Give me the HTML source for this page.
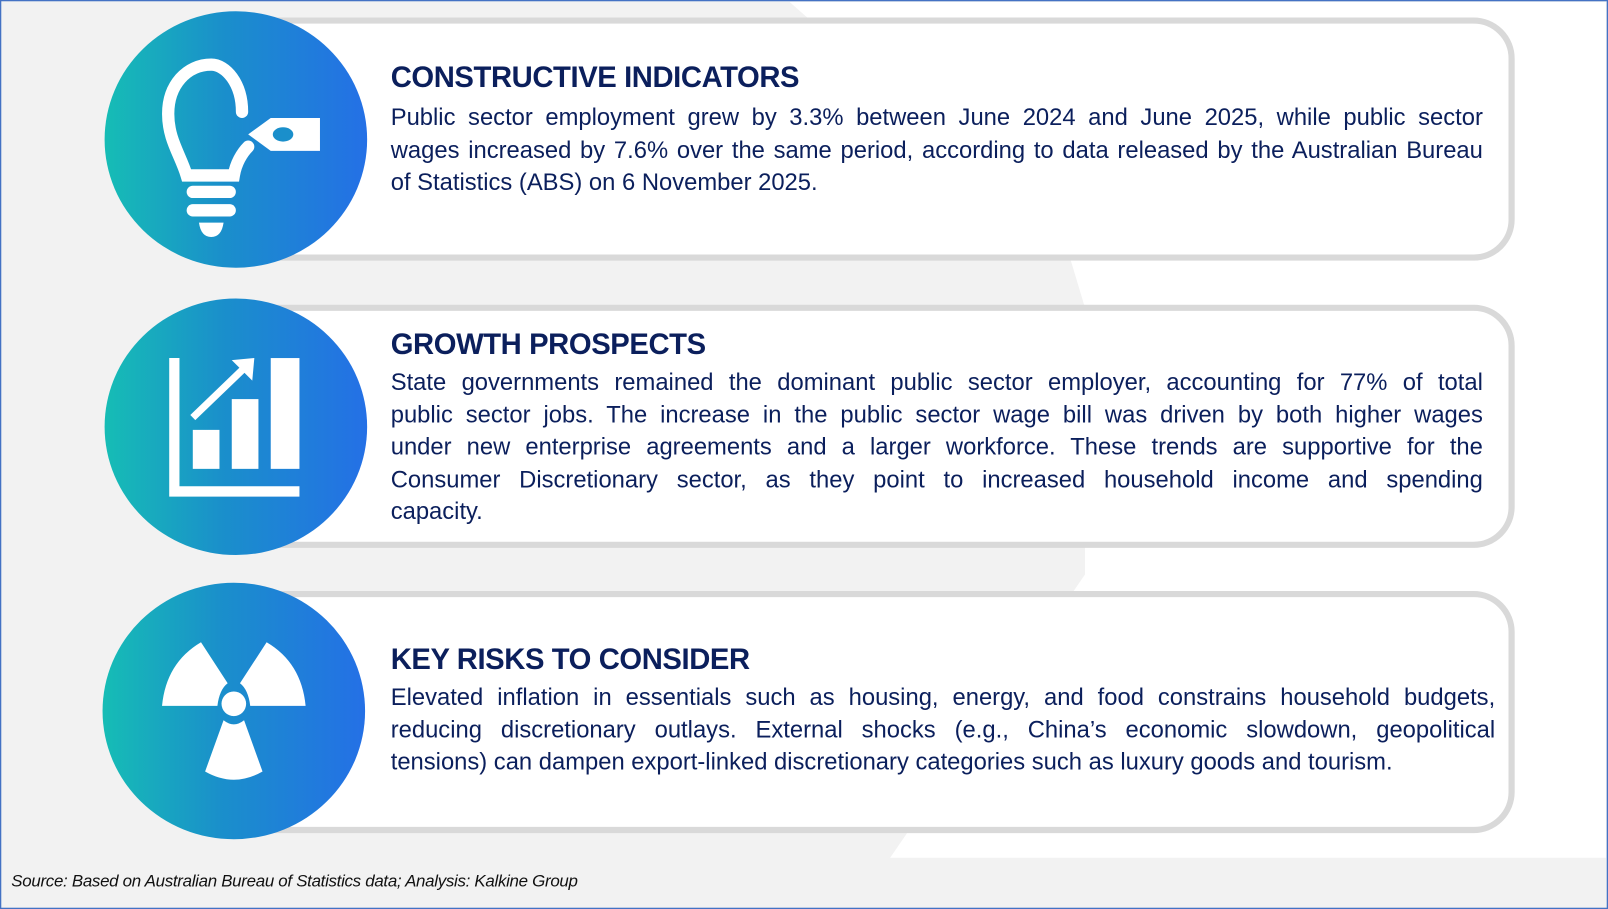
<!DOCTYPE html>
<html><head><meta charset="utf-8"><style>
html,body{margin:0;padding:0;width:1608px;height:909px;overflow:hidden;background:#f2f2f2}
#wrap{position:absolute;left:0;top:0;width:1568px;height:886px;transform:scale(1.02551,1.02596);transform-origin:0 0;font-family:"Liberation Sans",sans-serif;color:#0b1f5c}
.card{position:absolute;left:225px;width:1252px;background:#fff;border:6px solid #d9d9d9;border-radius:40px;box-sizing:border-box}
.circle{position:absolute;width:256px;height:250px;border-radius:50%;background:linear-gradient(90deg,#16bdb5,#1a8fcb 45%,#2470e6)}
.h{position:absolute;left:381px;font-weight:bold;font-size:28.5px;letter-spacing:-0.4px}
.body{position:absolute;left:381px;font-size:23.2px;line-height:31.5px}
.body div{text-align:justify;text-align-last:justify;white-space:nowrap;overflow:visible}
.body div.last{text-align-last:left}
.src{position:absolute;left:11px;top:850px;font-size:16.5px;font-style:italic;color:#111;letter-spacing:-0.3px}
</style></head><body>
<div id="wrap">
<svg width="1568" height="886" style="position:absolute;left:0;top:0">
<polygon points="770,2 1566,2 1566,836 868,836 1058,560 1058,300 1040,240" fill="#ffffff"/>
<rect x="0.5" y="0.5" width="1567" height="885" fill="none" stroke="#4472c4" stroke-width="1.5"/>
</svg>

<div class="card" style="top:17px;height:237px"></div>
<div class="card" style="top:297px;height:237px"></div>
<div class="card" style="top:576px;height:236px"></div>

<div class="circle" style="left:102px;top:11px">
<svg width="256" height="250">
<path d="M134 98 C134 70 118 52 104 52 C80 52 62 72 62 100 C62 125 74 140 80 160 L126 160 C128 148 134 138 140 132" fill="none" stroke="#fff" stroke-width="12" stroke-linecap="round"/>
<path d="M140 120 L162 104 L210 104 L210 136 L162 136 Z" fill="#fff"/>
<ellipse cx="174" cy="120" rx="10" ry="7" fill="#1a8fcb"/>
<rect x="80" y="170" width="48" height="12" rx="6" fill="#fff"/>
<rect x="80" y="188" width="48" height="12" rx="6" fill="#fff"/>
<path d="M92 206 L116 206 Q114 220 104 220 Q94 220 92 206 Z" fill="#fff"/>
</svg></div>

<div class="circle" style="left:102px;top:291px">
<svg width="256" height="250">
<path d="M68 58 L68 188 L190 188" fill="none" stroke="#fff" stroke-width="10"/>
<rect x="86" y="128" width="26" height="38" fill="#fff"/>
<rect x="124" y="98" width="26" height="68" fill="#fff"/>
<rect x="162" y="58" width="28" height="108" fill="#fff"/>
<path d="M86 116 L138 66" stroke="#fff" stroke-width="7"/>
<path d="M124 60 L146 58 L144 80 Z" fill="#fff"/>
</svg></div>

<div class="circle" style="left:100px;top:568px">
<svg width="256" height="250">
<path d="M58 120 L112 120 Q114 104 122 98 L96 58 Q62 78 58 120 Z" fill="#fff"/>
<path d="M198 120 L144 120 Q142 104 134 98 L160 58 Q194 78 198 120 Z" fill="#fff"/>
<path d="M100 184 L118 134 Q128 142 138 134 L156 184 Q128 200 100 184 Z" fill="#fff"/>
<circle cx="128" cy="118" r="12" fill="#fff"/>
</svg></div>

<div class="h" style="top:60px">CONSTRUCTIVE INDICATORS</div>
<div class="body" style="top:99px;width:1065px">
<div>Public sector employment grew by 3.3% between June 2024 and June 2025, while public sector</div>
<div>wages increased by 7.6% over the same period, according to data released by the Australian Bureau</div>
<div class="last">of Statistics (ABS) on 6 November 2025.</div>
</div>

<div class="h" style="top:320px">GROWTH PROSPECTS</div>
<div class="body" style="top:357px;width:1065px">
<div>State governments remained the dominant public sector employer, accounting for 77% of total</div>
<div>public sector jobs. The increase in the public sector wage bill was driven by both higher wages</div>
<div>under new enterprise agreements and a larger workforce. These trends are supportive for the</div>
<div>Consumer Discretionary sector, as they point to increased household income and spending</div>
<div class="last">capacity.</div>
</div>

<div class="h" style="top:627px">KEY RISKS TO CONSIDER</div>
<div class="body" style="top:664px;width:1077px">
<div>Elevated inflation in essentials such as housing, energy, and food constrains household budgets,</div>
<div>reducing discretionary outlays. External shocks (e.g., China’s economic slowdown, geopolitical</div>
<div class="last">tensions) can dampen export-linked discretionary categories such as luxury goods and tourism.</div>
</div>

<div class="src">Source: Based on Australian Bureau of Statistics data; Analysis: Kalkine Group</div>
</div>
</body></html>
